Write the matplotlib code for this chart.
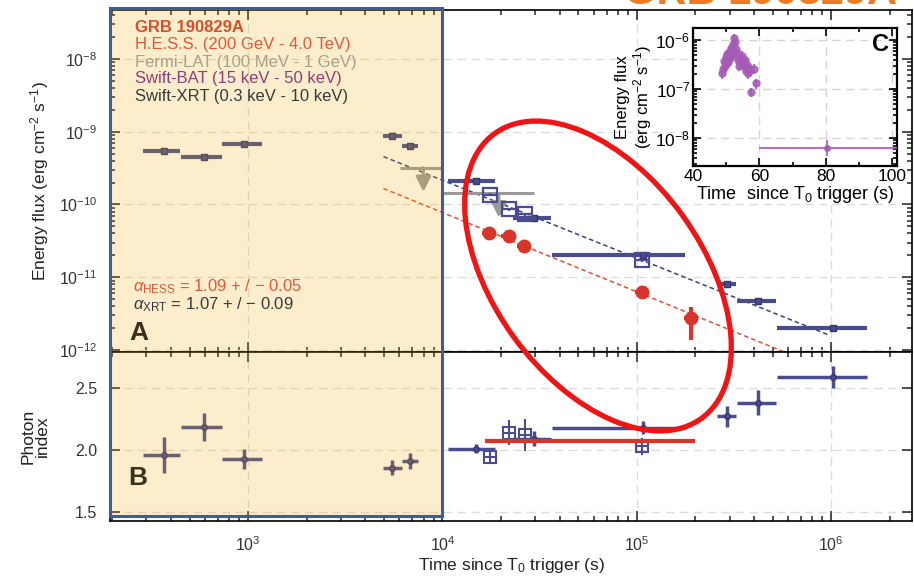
import numpy as np
import matplotlib
matplotlib.use("Agg")
import matplotlib.pyplot as plt
from matplotlib.patches import Rectangle, Ellipse
from matplotlib.transforms import blended_transform_factory, IdentityTransform
from matplotlib.ticker import LogLocator, NullFormatter, FixedLocator

plt.rcParams["font.family"] = ["Liberation Sans", "DejaVu Sans"]
plt.rcParams["mathtext.fontset"] = "custom"
plt.rcParams["mathtext.rm"] = "Liberation Sans"
plt.rcParams["mathtext.it"] = "Liberation Sans:italic"
plt.rcParams["mathtext.bf"] = "Liberation Sans:bold"

# ----------------------------
# data
# ----------------------------
# Swift-XRT, filled points (time bins in s)
xrt_t = [369, 593, 954, 5520, 6840, 14800, 29400, 107000, 291000, 421000, 1020000]
xrt_tlo = [288, 452, 735, 4970, 6220, 10700, 23000, 36500, 258000, 327000, 527000]
xrt_thi = [446, 735, 1180, 6220, 7520, 18700, 36000, 177000, 324000, 520000, 1530000]
xrt_flux = [5.5e-10, 4.55e-10, 6.85e-10, 8.8e-10, 6.4e-10, 2.13e-10, 6.45e-11,
            2.0e-11, 8.0e-12, 4.68e-12, 2.0e-12]
xrt_idx = [1.96, 2.185, 1.93, 1.855, 1.91, 2.01, 2.09, 2.18, 2.27, 2.38, 2.59]
xrt_idx_err = [0.145, 0.11, 0.08, 0.06, 0.065, 0.035, 0.06, 0.05, 0.085, 0.1, 0.09]

# Swift-XRT, open squares (during H.E.S.S. nights)
xrt_open_t = [17500, 21900, 26500, 106000]
xrt_open_tlo = [16200, 20300, 24500, 98000]
xrt_open_thi = [18900, 23600, 28600, 114000]
xrt_open_flux = [1.37e-10, 8.55e-11, 7.3e-11, 1.71e-11]
xrt_open_idx = [1.94, 2.14, 2.12, 2.03]
xrt_open_idx_err = [0.056, 0.1, 0.13, 0.07]

# H.E.S.S.
hess_t = [17300, 21900, 26200, 106000, 190000]
hess_tlo = [15900, 20100, 24100, 97500, 175000]
hess_thi = [18800, 23800, 28500, 115000, 206000]
hess_flux = [4.0e-11, 3.65e-11, 2.66e-11, 6.2e-12, 2.74e-12]
hess_ferr_lo = [4e-12, 4e-12, 3e-12, 8e-13, 1.37e-12]
hess_ferr_hi = [4e-12, 4e-12, 3e-12, 8e-13, 1.16e-12]
hess_idx = 2.07
hess_idx_range = [17000, 195000]

# Fermi-LAT upper limits
lat_t = [7980, 19500]
lat_tlo = [6080, 10000]
lat_thi = [10000, 29400]
lat_ul = [3.2e-10, 1.42e-10]

# power-law decay fits: F = norm * (t / t0)^-alpha
fit_t0 = 4970
xrt_fit_norm, xrt_alpha = 4.55e-10, 1.07
hess_fit_norm, hess_alpha = 1.66e-10, 1.09
xrt_fit_range = [4970, 980000]
hess_fit_range = [4970, 1000000]

# Swift-BAT (inset C), flux in 1e-7 erg cm-2 s-1
bat_t = [48.6, 48.9, 49.2, 49.5, 49.8, 50.1, 50.4, 50.7, 51.0, 51.3, 51.6, 51.9,
         52.2, 52.5, 52.8, 53.1, 53.4, 53.7, 54.0, 54.3, 54.6, 54.9, 55.2, 55.5,
         55.8, 56.1, 56.4, 56.7, 57.0, 57.3, 57.6, 58.4, 59.1]
bat_flux = [2.1, 2.6, 3.8, 3.0, 4.6, 3.4, 5.2, 3.6, 5.8, 4.4, 6.8, 5.0,
            8.4, 11.0, 9.2, 6.6, 5.4, 4.0, 3.0, 4.4, 3.6, 4.8, 4.0, 2.9,
            3.9, 2.3, 3.1, 2.1, 2.7, 2.4, 0.87, 2.6, 1.3]
bat_late_t, bat_late_tlo, bat_late_thi = 80.5, 60.0, 103.0
bat_late_flux, bat_late_lo, bat_late_hi = 6.2e-9, 4.3e-9, 9.0e-9

# ----------------------------
# colours
# ----------------------------
c_xrt = "#4a4c8f"
c_hess = "#d8352a"
c_lat = "#9a9a9a"
c_bat = "#a55bb5"

W, H = 914, 578
fig = plt.figure(figsize=(W / 100, H / 100), dpi=100)
ax1 = fig.add_axes([110 / W, 1 - 352 / H, 802 / W, 342 / H])
ax2 = fig.add_axes([110 / W, 1 - 521 / H, 802 / W, 169 / H], sharex=ax1)


def xerr_of(t, lo, hi):
    t = np.asarray(t)
    return [t - np.asarray(lo), np.asarray(hi) - t]


# ----------------------------
# panel A: energy flux
# ----------------------------
ax1.set_xscale("log")
ax1.set_yscale("log")

for fit_norm, alpha, rng, col in [(xrt_fit_norm, xrt_alpha, xrt_fit_range, "#3a3f80"),
                                  (hess_fit_norm, hess_alpha, hess_fit_range, "#e0503a")]:
    tt = np.array(rng, dtype=float)
    ax1.plot(tt, fit_norm * (tt / fit_t0) ** (-alpha), ls=(0, (3, 2)), lw=1.1, color=col, zorder=2)

ax1.errorbar(lat_t, lat_ul, xerr=xerr_of(lat_t, lat_tlo, lat_thi), fmt="none",
             ecolor=c_lat, elinewidth=2.2, zorder=3)
for t, ul in zip(lat_t, lat_ul):
    ax1.annotate("", xy=(t, ul / 2.15), xytext=(t, ul),
                 arrowprops=dict(arrowstyle="-|>,head_length=0.9,head_width=0.45",
                                 color=c_lat, lw=2.2, shrinkA=0, shrinkB=0), zorder=3)

xrt_flux_err = 0.06 * np.array(xrt_flux)
ax1.errorbar(xrt_t, xrt_flux, xerr=xerr_of(xrt_t, xrt_tlo, xrt_thi), yerr=xrt_flux_err,
             fmt="s", ms=5, color=c_xrt, mec="#34366e", ecolor=c_xrt, elinewidth=3, zorder=4)
ax1.errorbar(xrt_open_t, xrt_open_flux, xerr=xerr_of(xrt_open_t, xrt_open_tlo, xrt_open_thi),
             yerr=0.06 * np.array(xrt_open_flux), fmt="s", ms=10.5, mfc="none", mec=c_xrt,
             mew=1.6, ecolor=c_xrt, elinewidth=1.6, zorder=4)
ax1.errorbar(hess_t, hess_flux, xerr=xerr_of(hess_t, hess_tlo, hess_thi),
             yerr=[hess_ferr_lo, hess_ferr_hi], fmt="o", ms=9, color=c_hess,
             ecolor=c_hess, elinewidth=3, zorder=5)

ax1.set_xlim(195, 2.6e6)
ax1.set_ylim(9.4e-13, 4.7e-8)
ax1.yaxis.set_major_locator(LogLocator(base=10, numticks=20))
ax1.yaxis.set_minor_locator(LogLocator(base=10, subs=np.arange(2, 10), numticks=20))
ax1.yaxis.set_minor_formatter(NullFormatter())
ax1.set_ylabel("Energy flux (erg cm$^{-2}$ s$^{-1}$)", fontsize=12.5, color="#222222", labelpad=6)

# ----------------------------
# panel B: photon index
# ----------------------------
ax2.errorbar(xrt_t, xrt_idx, xerr=xerr_of(xrt_t, xrt_tlo, xrt_thi), yerr=xrt_idx_err,
             fmt="o", ms=4, color=c_xrt, mec="#34366e", ecolor=c_xrt, elinewidth=2.5, zorder=4)
ax2.errorbar(xrt_open_t, xrt_open_idx, xerr=xerr_of(xrt_open_t, xrt_open_tlo, xrt_open_thi),
             yerr=xrt_open_idx_err, fmt="s", ms=9, mfc="none", mec=c_xrt, mew=1.5,
             ecolor=c_xrt, elinewidth=1.5, zorder=4)
ax2.plot(hess_idx_range, [hess_idx, hess_idx], color=c_hess, lw=3, zorder=5)
ax2.set_ylim(1.427, 2.79)
ax2.yaxis.set_major_locator(FixedLocator([1.5, 2.0, 2.5]))
ax2.set_ylabel("Photon\nindex", fontsize=12.5, color="#222222", labelpad=18, linespacing=1.0)
ax2.set_xlabel("Time since T$_0$ trigger (s)", fontsize=12.5, color="#222222", labelpad=2)

for ax in (ax1, ax2):
    ax.xaxis.set_major_locator(LogLocator(base=10, numticks=20))
    ax.xaxis.set_minor_locator(LogLocator(base=10, subs=np.arange(2, 10), numticks=20))
    ax.xaxis.set_minor_formatter(NullFormatter())
    ax.tick_params(which="both", direction="in", top=True, right=True, colors="#222222",
                   labelcolor="#333333", labelsize=11.5, width=1.1)
    ax.tick_params(which="major", length=7)
    ax.tick_params(which="minor", length=3.5)
    ax.tick_params(axis="y", pad=9)
    ax.grid(True, which="major", ls=(0, (6, 4)), color="#dcdcdc", lw=1)
    ax.set_axisbelow(True)
    for s in ax.spines.values():
        s.set_linewidth(1.2)
ax1.tick_params(labelbottom=False)
ax2.tick_params(axis="x", pad=10)

# ----------------------------
# inset C: Swift-BAT prompt
# ----------------------------
ax3 = fig.add_axes([693 / W, 1 - 166 / H, 204 / W, 138 / H])
ax3.set_yscale("log")
bat_f = np.array(bat_flux) * 1e-7
ax3.errorbar(bat_t, bat_f, yerr=0.22 * bat_f, fmt="o", ms=5, color=c_bat, ecolor=c_bat,
             elinewidth=1.5, alpha=0.85, zorder=3)
ax3.errorbar([bat_late_t], [bat_late_flux],
             xerr=[[bat_late_t - bat_late_tlo], [bat_late_thi - bat_late_t]],
             yerr=[[bat_late_flux - bat_late_lo], [bat_late_hi - bat_late_flux]],
             fmt="o", ms=4, color=c_bat, ecolor=c_bat, elinewidth=1.5, alpha=0.85, zorder=3)
ax3.set_xlim(40, 101.5)
ax3.set_ylim(2.7e-9, 1.76e-6)
ax3.set_xticks([40, 60, 80, 100])
ax3.xaxis.set_minor_locator(FixedLocator([50, 70, 90]))
ax3.yaxis.set_major_locator(LogLocator(base=10, numticks=10))
ax3.yaxis.set_minor_locator(LogLocator(base=10, subs=np.arange(2, 10), numticks=10))
ax3.yaxis.set_minor_formatter(NullFormatter())
ax3.tick_params(which="both", direction="in", top=True, right=True, labelsize=12.5, pad=2, width=1.2)
ax3.tick_params(which="major", length=6)
ax3.tick_params(which="minor", length=3)
ax3.grid(True, which="major", ls=(0, (6, 4)), color="#d6d6d6", lw=1)
ax3.set_axisbelow(True)
for s in ax3.spines.values():
    s.set_linewidth(1.6)
ax3.set_xlabel("Time  since T$_0$ trigger (s)", fontsize=13, labelpad=0)
ax3.set_ylabel("Energy flux\n(erg cm$^{-2}$ s$^{-1}$)", fontsize=12, labelpad=1, linespacing=1.05)
ax3.text(0.96, 0.88, "C", transform=ax3.transAxes, ha="right", va="center",
         fontsize=17, fontweight="bold")

# ----------------------------
# shaded early-time region (overlay) and labels
# ----------------------------
x_left = ax1.get_xlim()[0]
trans = blended_transform_factory(ax1.transData, fig.transFigure)
shade = Rectangle((x_left, 1 - 516 / H), 1e4 - x_left, 508 / H, transform=trans,
                  facecolor=(0.957, 0.68, 0.0, 0.2), edgecolor="#3d5c9c", lw=2.2, zorder=2)
fig.add_artist(shade)

legend_lines = [("GRB 190829A", "#d4502a", "bold"),
                ("H.E.S.S. (200 GeV - 4.0 TeV)", "#dc5a3c", "normal"),
                ("Fermi-LAT (100 MeV - 1 GeV)", "#a8a08c", "normal"),
                ("Swift-BAT (15 keV - 50 keV)", "#8c3f78", "normal"),
                ("Swift-XRT (0.3 keV - 10 keV)", "#3a3a3a", "normal")]
for i, (txt, col, wt) in enumerate(legend_lines):
    fig.text(135 / W, 1 - (28 + 17 * i) / H, txt, color=col, fontsize=12, fontweight=wt,
             ha="left", va="center", zorder=3)

fig.text(133 / W, 1 - 287 / H, r"$\alpha_{\mathrm{HESS}}$ = 1.09 + / $-$ 0.05", color="#dc5a3c",
         fontsize=12, ha="left", va="center", zorder=3)
fig.text(133 / W, 1 - 305 / H, r"$\alpha_{\mathrm{XRT}}$ = 1.07 + / $-$ 0.09", color="#3a3a3a",
         fontsize=12, ha="left", va="center", zorder=3)
fig.text(129 / W, 1 - 333 / H, "A", color="#3a3020", fontsize=19, fontweight="bold",
         ha="left", va="center", zorder=3)
fig.text(128 / W, 1 - 478 / H, "B", color="#3a3020", fontsize=19, fontweight="bold",
         ha="left", va="center", zorder=3)

# clipped title at the top edge
fig.text(760 / W, 1 - 4 / H, "GRB 190829A", color="#f07a22", fontsize=30, fontweight="bold",
         ha="center", va="baseline", zorder=3)

# red hand-drawn ellipse highlight (pixel coordinates)
ring = Ellipse((598, H - 276), 352, 208, angle=-54, transform=IdentityTransform(),
               fill=False, edgecolor="#f01414", lw=3.8, zorder=6)
fig.add_artist(ring)

fig.savefig("out.png", dpi=100)
